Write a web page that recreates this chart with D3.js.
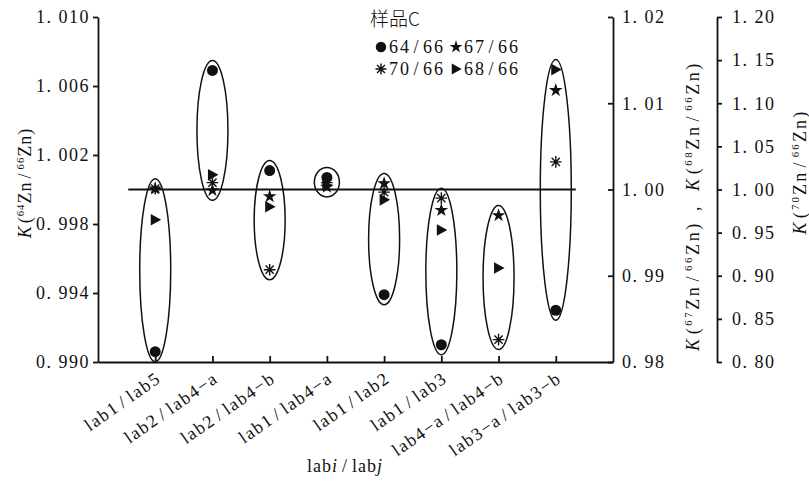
<!DOCTYPE html>
<html>
<head>
<meta charset="utf-8">
<script src="https://cdn.jsdelivr.net/npm/d3@7/dist/d3.min.js"></script>
<style>
  html, body { margin: 0; padding: 0; background: #fff; }
  svg { display: block; }
  text { font-family: "Liberation Serif", "Times New Roman", "DejaVu Serif", serif; fill: #111; }
</style>
</head>
<body>
<div id="chart"></div>
<script>
// Sample C: K values per lab pair
const categories = ["lab1/lab5", "lab2/lab4−a", "lab2/lab4−b", "lab1/lab4−a",
                    "lab1/lab2", "lab1/lab3", "lab4−a/lab4−b", "lab3−a/lab3−b"];

const k64 = [0.9906, 1.0069, 1.0011, 1.0007, 0.9939, 0.9910, null, 0.9930];
const k67 = [1.0001, 0.9999, 0.9992, 1.0003, 1.0007, 0.9976, 0.9970, 1.0115];
const k68 = [0.9965, 1.0017, 0.9980, 1.0005, 0.9988, 0.9953, 0.9909, 1.0139];
const k70 = [1.001, 1.008, 0.907, 1.008, 0.997, 0.990, 0.826, 1.032];

const leftTicks   = [0.990, 0.994, 0.998, 1.002, 1.006, 1.010];
const right1Ticks = [0.98, 0.99, 1.00, 1.01, 1.02];
const right2Ticks = [0.80, 0.85, 0.90, 0.95, 1.00, 1.05, 1.10, 1.15, 1.20];

const refValue = 1.000;

// series -> axis + marker
const SERIES = [
  { name: "64/66", values: k64, axis: "left",   symbol: "circle" },
  { name: "67/66", values: k67, axis: "right1", symbol: "star" },
  { name: "70/66", values: k70, axis: "right2", symbol: "asterisk" },
  { name: "68/66", values: k68, axis: "right1", symbol: "triangle" }
];

const W = 809, H = 483;
const plot = { left: 98, right: 613, top: 17, bottom: 362, right2: 717 };
const SERIF = "'Liberation Serif', 'Times New Roman', serif";

const svg = d3.select("#chart").append("svg")
  .attr("width", W).attr("height", H)
  .attr("viewBox", [0, 0, W, H]);

const x = d3.scalePoint().domain(categories).range([plot.left, plot.right]).padding(1);
const yLeft = d3.scaleLinear().domain([0.990, 1.010]).range([plot.bottom, plot.top]);
const yR1 = d3.scaleLinear().domain([0.98, 1.02]).range([plot.bottom, plot.top]);
const yR2 = d3.scaleLinear().domain([0.80, 1.20]).range([plot.bottom, plot.top]);
const scaleFor = { left: yLeft, right1: yR1, right2: yR2 };

const TICK_FONT = 18;
const fmtTick = f => d => d3.format(f)(d).replace(".", ". ");

// ---------- rich text helper (italic / superscript / spaced slash) ----------
function richText(sel, segs, size) {
  let shift = 0;
  segs.forEach(s => {
    const t = sel.append("tspan").text(s.t);
    const sup = !!s.sup;
    const want = sup ? -7 : 0;
    t.attr("dy", want - shift);
    shift = want;
    t.attr("font-size", sup ? size * 0.6 : size);
    if (s.it) t.attr("font-style", "italic");
    if (s.dx) t.attr("dx", s.dx);
  });
}

function slashSegs(str, gap = 4) {
  const [a, b] = str.split("/");
  return [{ t: a }, { t: "/", dx: gap }, { t: b, dx: gap }];
}

function kSegs(iso) {
  return [{ t: "K", it: true }, { t: "(", dx: 2 }, { t: iso, sup: true }, { t: "Zn" },
          { t: "/", dx: 3 }, { t: "66", sup: true, dx: 3 }, { t: "Zn" }, { t: ")" }];
}

// ---------- axes ----------
const axisStyle = g => {
  g.attr("font-family", null);
  g.selectAll("path, line").attr("stroke", "#111").attr("stroke-width", 1.8);
  g.selectAll("text").attr("font-size", TICK_FONT).attr("fill", "#111")
    .style("letter-spacing", "1.5px")
    .style("font-family", SERIF);
};

svg.append("g")
  .attr("transform", `translate(${plot.left},0)`)
  .call(d3.axisLeft(yLeft).tickValues(leftTicks).tickFormat(fmtTick(".3f"))
        .tickSize(5).tickSizeOuter(0).tickPadding(3))
  .call(axisStyle);

svg.append("g")
  .attr("transform", `translate(${plot.right},0)`)
  .call(d3.axisRight(yR1).tickValues(right1Ticks).tickFormat(fmtTick(".2f"))
        .tickSize(-5).tickSizeOuter(0).tickPadding(9))
  .call(axisStyle);

svg.append("g")
  .attr("transform", `translate(${plot.right2},0)`)
  .call(d3.axisRight(yR2).tickValues(right2Ticks).tickFormat(fmtTick(".2f"))
        .tickSize(5).tickSizeOuter(0).tickPadding(10))
  .call(axisStyle);

const xAxis = svg.append("g")
  .attr("transform", `translate(0,${plot.bottom})`)
  .call(d3.axisBottom(x).tickSize(-6).tickSizeOuter(0))
  .call(axisStyle);
xAxis.selectAll("text").remove();

// category labels, rotated
categories.forEach(c => {
  const t = svg.append("text")
    .attr("text-anchor", "end")
    .attr("font-size", TICK_FONT)
    .style("letter-spacing", "1.6px")
    .attr("transform", `translate(${x(c) + 7},${plot.bottom + 19}) rotate(-35)`);
  richText(t, slashSegs(c, 3.5), TICK_FONT);
});

// axis titles
const tLeft = svg.append("text")
  .attr("text-anchor", "middle")
  .style("letter-spacing", "1px")
  .attr("transform", `translate(31,183) rotate(-90)`);
richText(tLeft, kSegs("64"), TICK_FONT);

const tR1 = svg.append("text")
  .attr("text-anchor", "middle")
  .style("letter-spacing", "2.6px")
  .attr("transform", `translate(699,206) rotate(-90)`);
richText(tR1, kSegs("67").concat([{ t: ",", dx: 10 }, { t: " ", dx: 6 }], kSegs("68")), TICK_FONT);

const tR2 = svg.append("text")
  .attr("text-anchor", "middle")
  .style("letter-spacing", "2.2px")
  .attr("transform", `translate(806,172) rotate(-90)`);
richText(tR2, kSegs("70"), TICK_FONT);

const tX = svg.append("text")
  .attr("text-anchor", "middle")
  .style("letter-spacing", "1px")
  .attr("x", 345).attr("y", 472);
richText(tX, [{ t: "lab" }, { t: "i", it: true }, { t: "/", dx: 4 }, { t: "lab", dx: 4 }, { t: "j", it: true }], TICK_FONT);

// ---------- markers ----------
const asteriskPath = r => {
  let p = "";
  [0, 45, 90, 135].forEach(a => {
    const rad = a * Math.PI / 180, dx = Math.cos(rad) * r, dy = Math.sin(rad) * r;
    p += `M${-dx},${-dy}L${dx},${dy}`;
  });
  return p;
};

function drawMarker(g, symbol, cx, cy, scale = 1) {
  const grp = g.append("g").attr("transform", `translate(${cx},${cy})`);
  if (symbol === "circle") {
    grp.append("path").attr("d", d3.symbol(d3.symbolCircle, 95 * scale * scale)()).attr("fill", "#111");
  } else if (symbol === "star") {
    grp.append("path").attr("d", d3.symbol(d3.symbolStar, 58 * scale * scale)()).attr("fill", "#111");
  } else if (symbol === "triangle") {
    const s = scale;
    grp.append("path").attr("d", `M${-4.5 * s},${-5.8 * s}L${6 * s},0L${-4.5 * s},${5.8 * s}Z`).attr("fill", "#111");
  } else {
    grp.append("path").attr("d", asteriskPath(5.8 * scale))
      .attr("stroke", "#111").attr("stroke-width", 1.4).attr("fill", "none");
  }
}

// ---------- group ellipses ----------
const groupG = svg.append("g");
categories.forEach((c, i) => {
  const ys = [];
  SERIES.forEach(s => { if (s.values[i] != null) ys.push(scaleFor[s.axis](s.values[i])); });
  const lo = d3.min(ys), hi = d3.max(ys);
  const ry = (hi - lo) / 2 + 10;
  const rx = Math.min(15.5, ry * 0.85);
  groupG.append("ellipse")
    .attr("cx", x(c)).attr("cy", (lo + hi) / 2)
    .attr("rx", rx).attr("ry", ry)
    .attr("fill", "none").attr("stroke", "#111").attr("stroke-width", 1.5);
});

// reference line at K = 1
svg.append("line")
  .attr("x1", x(categories[0]) - 27)
  .attr("x2", x(categories[categories.length - 1]) + 20)
  .attr("y1", yLeft(refValue)).attr("y2", yLeft(refValue))
  .attr("stroke", "#111").attr("stroke-width", 2);

const markG = svg.append("g");
SERIES.forEach(s => {
  s.values.forEach((v, i) => {
    if (v == null) return;
    drawMarker(markG, s.symbol, x(categories[i]), scaleFor[s.axis](v));
  });
});

// ---------- legend ----------
const lg = svg.append("g");
lg.append("text").attr("x", 370).attr("y", 26).attr("font-size", 19)
  .text("样品C")
  .style("font-family", "'Noto Sans CJK SC', 'Liberation Serif', serif")
  .style("font-weight", 300);

SERIES.forEach((s, i) => {
  const row = Math.floor(i / 2), col = i % 2;
  const mx = 381 + col * 75, baseY = 53 + row * 22;
  drawMarker(lg, s.symbol, mx, baseY - 6, 0.95);
  const t = lg.append("text")
    .attr("x", mx + 8).attr("y", baseY)
    .attr("font-size", TICK_FONT)
    .style("letter-spacing", "2px");
  richText(t, slashSegs(s.name, 2.5), TICK_FONT);
});
</script>
</body>
</html>
